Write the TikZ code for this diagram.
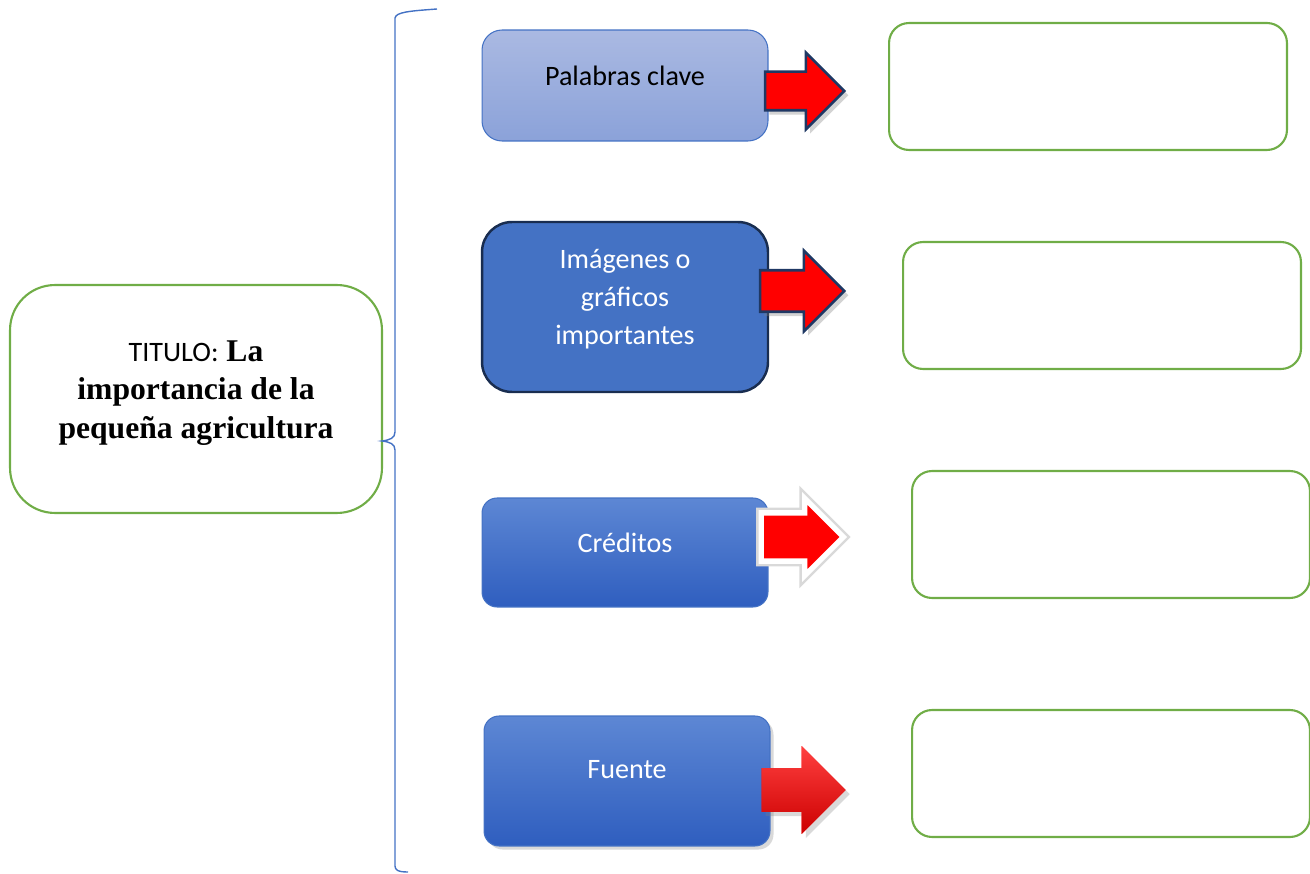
\documentclass[tikz,border=0pt]{standalone}
\usepackage{fontspec}
\setmainfont{Carlito}
\newfontfamily\timesfont{Liberation Serif}
\usetikzlibrary{shapes.arrows,shadows}
\definecolor{verde}{HTML}{70AD47}
\definecolor{azul}{HTML}{4472C4}
\definecolor{marino}{HTML}{1F3864}
\definecolor{azulclaroA}{HTML}{AAB9E2}
\definecolor{azulclaroB}{HTML}{8BA2D9}
\definecolor{azulA}{HTML}{5D87D4}
\definecolor{azulB}{HTML}{2F5EBF}
\tikzset{
  cuadro/.style={draw=verde, line width=1.2pt, rounded corners=0.4cm,
    minimum width=7.96cm, minimum height=2.54cm},
  tema/.style={draw=azul, line width=0.6pt, minimum width=5.72cm},
  txt/.style={align=center, font=\fontsize{16}{21.5}\selectfont},
  flecha/.style={single arrow, fill=red, inner xsep=0pt, anchor=tip},
}
\begin{document}
\begin{tikzpicture}[x=0.02cm, y=-0.02cm]
    \useasboundingbox (0,0) rectangle (1310,874);
    % title
    \node[draw=verde, line width=1.2pt, rounded corners=0.9cm,
      minimum width=7.44cm, minimum height=4.56cm] (titulo) at (196,399) {};
    \node[align=center, font=\timesfont\bfseries\fontsize{18}{22}\selectfont]
      (titulotxt) at (196,393)
      {{\normalfont\fontsize{16}{22}\selectfont TITULO:} La\\importancia de la\\pequeña agricultura};
    % brace
    \draw[azul, line width=0.8pt] (437,9) .. controls (410,11) and (396,12) .. (395,18)
      -- (395,432) .. controls (395,438) and (390,440) .. (382,441)
      .. controls (390,442) and (395,444) .. (395,450)
      -- (395,866) .. controls (395,870) and (398,872) .. (408,872);
    % topics
    \node[tema, rounded corners=0.4cm, minimum height=2.22cm,
      top color=azulclaroA, bottom color=azulclaroB] (palabras) at (625,85.5) {};
    \node[txt] (palabrastxt) at (625,76) {Palabras clave};
    \node[tema, draw=marino!80!black, line width=1.4pt, rounded corners=0.6cm,
      minimum height=3.4cm, fill=azul] (imagenes) at (625,307) {};
    \node[txt, text=white] (imagenestxt) at (625,299) {Imágenes o\\gráficos\\importantes};
    \node[tema, rounded corners=0.3cm, minimum height=2.18cm,
      top color=azulA, bottom color=azulB] (creditos) at (625,552.5) {};
    \node[txt, text=white] (creditostxt) at (625,543) {Créditos};
    \node[tema, rounded corners=0.3cm, minimum height=2.6cm,
      top color=azulA, bottom color=azulB,
      drop shadow={opacity=0.3, shadow xshift=2pt, shadow yshift=-2pt}] (fuente) at (627,781) {};
    \node[txt, text=white] (fuentetxt) at (627,770) {Fuente};
    % arrows
    \node[flecha, draw=marino, line width=1.5pt, drop shadow={opacity=0.35},
      minimum height=1.58cm, inner ysep=0.36cm, single arrow head extend=0.38cm] (f1) at (846,91) {};
    \node[flecha, draw=marino, line width=1.5pt, drop shadow={opacity=0.35},
      minimum height=1.68cm, inner ysep=0.39cm, single arrow head extend=0.39cm] (f2) at (846,291) {};
    \node[flecha, draw=white, line width=3pt, preaction={draw=black!15, line width=6pt},
      minimum height=1.64cm, inner ysep=0.43cm, single arrow head extend=0.29cm] (f3) at (847,537) {};
    \node[flecha, top color=red!75!white, bottom color=red!80!black, drop shadow={opacity=0.3},
      minimum height=1.68cm, inner ysep=0.43cm, single arrow head extend=0.44cm] (f4) at (846,790) {};
    % empty boxes
    \node[cuadro] (v1) at (1088,86.5) {};
    \node[cuadro] (v2) at (1102,305.5) {};
    \node[cuadro] (v3) at (1111,534.5) {};
    \node[cuadro] (v4) at (1111,773.5) {};
\end{tikzpicture}
\end{document}
